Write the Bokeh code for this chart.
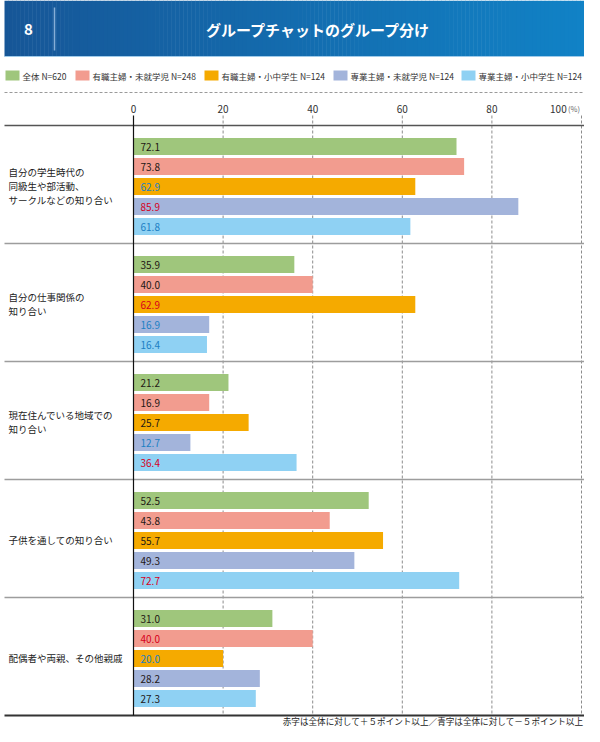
from bokeh.plotting import figure
from bokeh.models import Range1d
from bokeh.core.properties import value
from bokeh.embed import file_html
from bokeh.resources import INLINE

# ---------------- data ----------------
chart_no = "8"
title = "グループチャットのグループ分け"
series = ["全体 N=620", "有職主婦・未就学児 N=248", "有職主婦・小中学生 N=124",
          "専業主婦・未就学児 N=124", "専業主婦・小中学生 N=124"]
categories = [
    ["自分の学生時代の", "同級生や部活動、", "サークルなどの知り合い"],
    ["自分の仕事関係の", "知り合い"],
    ["現在住んでいる地域での", "知り合い"],
    ["子供を通しての知り合い"],
    ["配偶者や両親、その他親戚"],
]
s_all = [72.1, 35.9, 21.2, 52.5, 31.0]
s_work_pre = [73.8, 40.0, 16.9, 43.8, 40.0]
s_work_school = [62.9, 62.9, 25.7, 55.7, 20.0]
s_home_pre = [85.9, 16.9, 12.7, 49.3, 28.2]
s_home_school = [61.8, 16.4, 36.4, 72.7, 27.3]
# value-label highlight: 1 = red (+5pt), -1 = blue (-5pt), 0 = normal
m_all = [0, 0, 0, 0, 0]
m_work_pre = [0, 0, 0, 0, 1]
m_work_school = [-1, 1, 0, 0, -1]
m_home_pre = [1, -1, -1, 0, 0]
m_home_school = [-1, -1, 1, 1, 0]
ticks = [0, 20, 40, 60, 80, 100]
tick_labels = ["0", "20", "40", "60", "80", "100"]
unit_label = "(%)"
note = "赤字は全体に対して＋５ポイント以上／青字は全体に対して－５ポイント以上"

values = [s_all, s_work_pre, s_work_school, s_home_pre, s_home_school]
marks = [m_all, m_work_pre, m_work_school, m_home_pre, m_home_school]

# ---------------- style / layout ----------------
FONT = value("Noto Sans CJK JP")
colors = ["#9fc67c", "#f29c8f", "#f5aa00", "#a3b4db", "#8fd1f3"]
mark_colors = {0: "#231815", 1: "#d7001b", -1: "#1c80c4"}
W, H = 584, 726
X0, PXU = 133.0, 4.48           # pixel of 0 %, pixels per percent
TOP = 125.0                      # top rule of the table
GH = 118.0                       # group height
BAR_OFF = [21, 41, 61, 81, 101]  # bar centres inside a group
BAR_H = 17
GRID_TOP = 115

p = figure(width=W, height=H, output_backend="svg", toolbar_location=None,
           x_range=Range1d(-X0 / PXU, (W - X0) / PXU), y_range=Range1d(H, 0),
           x_axis_type=None, y_axis_type=None, min_border=0)
p.extra_x_ranges = {"px": Range1d(0, W)}
p.outline_line_color = None
p.background_fill_color = "white"
p.border_fill_color = "white"

# ---- banner (gradient by strips) ----
N = 146
BX0, BX1, BY = 4, W, 56
c0, c1 = (22, 86, 151), (17, 130, 198)
lefts = [BX0 + (BX1 - BX0) * i / N for i in range(N)]
rights = [BX0 + (BX1 - BX0) * (i + 1) / N + 0.5 for i in range(N)]
rights[-1] = BX1
cols = []
for i in range(N):
    t = i / (N - 1)
    r, g, b = (round(c0[k] + (c1[k] - c0[k]) * t) for k in range(3))
    cols.append("#%02x%02x%02x" % (r, g, b))
p.quad(left=lefts, right=rights, top=0, bottom=BY, fill_color=cols, line_color=None,
       x_range_name="px")
p.segment(x0=[BX0], y0=[BY], x1=[BX1], y1=[BY], line_color="#9fcbea", line_width=1,
          x_range_name="px")
p.segment(x0=[54], y0=[7], x1=[54], y1=[50], line_color="#86aed6", line_width=1.5,
          x_range_name="px")
p.text(x=[28], y=[29], text=[chart_no], x_range_name="px", text_align="center",
       text_baseline="middle", text_color="white", text_font_size="15px",
       text_font_style="bold", text_font=FONT)
p.text(x=[318], y=[29], text=[title], x_range_name="px", text_align="center",
       text_baseline="middle", text_color="white", text_font_size="15px",
       text_font_style="bold", text_font=FONT)

# ---- legend ----
leg_x = [5, 75, 204, 333, 461]
LY = 75
p.rect(x=[lx + 7 for lx in leg_x], y=[LY] * 5, width=14, height=10,
       fill_color=colors, line_color=None, x_range_name="px")
p.text(x=[lx + 17 for lx in leg_x], y=[LY] * 5, text=series, x_range_name="px",
       text_align="left", text_baseline="middle", text_color="#333333",
       text_font_size="8.5px", text_font=FONT)

# dashed separator under legend
p.segment(x0=[4], y0=[92], x1=[W], y1=[92], line_color="#9a9a9a", line_width=1,
          line_dash="3 2", x_range_name="px")

# ---- tick labels ----
TY = 108
p.text(x=ticks[:-1], y=[TY] * 5, text=tick_labels[:-1], text_align="center",
       text_baseline="middle", text_color="#333333", text_font_size="10px",
       text_font=FONT)
p.text(x=[ticks[-1] - 3.3], y=[TY], text=[tick_labels[-1]], text_align="right",
       text_baseline="middle", text_color="#333333", text_font_size="10px",
       text_font=FONT)
p.text(x=[ticks[-1] - 3.0], y=[TY], text=[unit_label], text_align="left",
       text_baseline="middle", text_color="#666666", text_font_size="7.5px",
       text_font=FONT)

ng = len(categories)
bottom = TOP + GH * ng

# grid lines
p.segment(x0=ticks[1:], y0=[GRID_TOP] * 5, x1=ticks[1:], y1=[bottom] * 5,
          line_color="#8c8c8c", line_width=1, line_dash="3 2")

# horizontal rules
p.segment(x0=[4], y0=[TOP], x1=[W], y1=[TOP], line_color="#555555", line_width=1.3,
          x_range_name="px")
mids = [TOP + GH * g for g in range(1, ng)]
p.segment(x0=[4] * len(mids), y0=mids, x1=[W] * len(mids), y1=mids,
          line_color="#9d9d9d", line_width=1.5, x_range_name="px")
p.segment(x0=[4], y0=[bottom], x1=[W], y1=[bottom], line_color="#333333",
          line_width=2, x_range_name="px")

# ---- bars ----
for s, (vals, mk) in enumerate(zip(values, marks)):
    ys = [TOP + GH * g + BAR_OFF[s] for g in range(ng)]
    p.hbar(y=ys, left=0, right=vals, height=BAR_H, fill_color=colors[s],
           line_color=None)
    p.text(x=[7 / PXU] * ng, y=ys, text=["%.1f" % v for v in vals],
           text_color=[mark_colors[m] for m in mk], text_align="left",
           text_baseline="middle", text_font_size="10px", text_font=FONT)

# zero axis line
p.segment(x0=[0], y0=[GRID_TOP], x1=[0], y1=[bottom], line_color="#111111",
          line_width=1.2)

# ---- category labels ----
LS = 14
for g, lines in enumerate(categories):
    cy = TOP + GH * g + GH / 2 + 1
    n = len(lines)
    ys = [cy + (i - (n - 1) / 2) * LS for i in range(n)]
    p.text(x=[8] * n, y=ys, text=lines, x_range_name="px", text_align="left",
           text_baseline="middle", text_color="#222222", text_font_size="9.5px",
           text_font=FONT)

# ---- footnote ----
p.text(x=[583], y=[720.5], text=[note], x_range_name="px", text_align="right",
       text_baseline="middle", text_color="#222222", text_font_size="8.6px",
       text_font=FONT)

open("out.html", "w").write(file_html(p, INLINE))
